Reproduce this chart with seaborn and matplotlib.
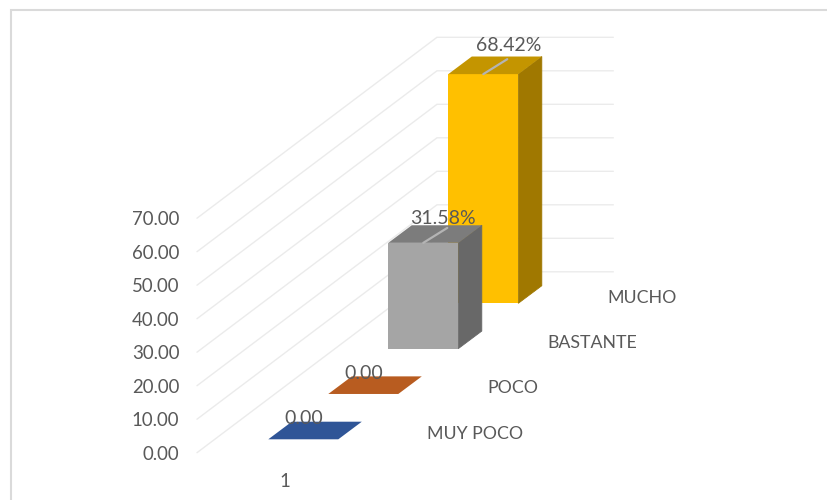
import matplotlib
matplotlib.use("Agg")
import matplotlib.pyplot as plt
from matplotlib.lines import Line2D
from matplotlib.patches import Polygon
import seaborn as sns

categories = ["MUY POCO", "POCO", "BASTANTE", "MUCHO"]
values = [0.0, 0.0, 31.58, 68.42]
axis_ticks = [0, 10, 20, 30, 40, 50, 60, 70]
series_label = "1"

front_colors = ["#4472C4", "#ED7D31", "#A5A5A5", "#FFC000"]
top_colors = ["#2F5597", "#B85C20", "#7C7C7C", "#C49500"]
side_colors = ["#264478", "#9E480E", "#686868", "#A07800"]
text_color = "#595959"
grid_color = "#EBEBEB"

W, H = 827, 500
PX_X = 60.0      # pixels per category step
PX_Y = 3.35      # pixels per value unit
X0, Y0 = 303.3, 439.3   # pixel position of the first bar's base centre

STEP_LIFT = 13.53       # upward shift of the floor per category step
BAR_WIDTH = 70 / PX_X
DEPTH_X = 23.5 / PX_X
DEPTH_Y = 17.6 / PX_Y

sns.set_theme(style="white")
plt.rcParams["font.family"] = ["Lato", "DejaVu Sans"]
TICK_SIZE = 13.4
CATEGORY_SIZE = 12.8
LABEL_SIZE = 14.0

fig = plt.figure(figsize=(W / 100, H / 100), dpi=100, facecolor="white")
ax = fig.add_axes([0, 0, 1, 1])

# Walls of the 3D box: oblique floor rays, then the receding horizontals
wall_front, wall_back, wall_end = -1.772, 2.228, 5.167
floor_front, floor_back = -4.0, 50.0
for tick in axis_ticks:
    ax.plot([wall_front, wall_back, wall_end],
            [floor_front + tick, floor_back + tick, floor_back + tick],
            color=grid_color, lw=1, zorder=1, solid_joinstyle="miter")
    ax.text(wall_front - 0.295, floor_front + tick - 0.4, f"{tick:.2f}",
            ha="right", va="center", color=text_color, fontsize=TICK_SIZE)

# Bars go back to front so that nearer ones cover the farther ones
for i in reversed(range(len(categories))):
    base = i * STEP_LIFT
    val = values[i]
    z = 10 + (len(categories) - i)
    left, right = i - BAR_WIDTH / 2, i + BAR_WIDTH / 2
    top = base + val
    if val > 0:
        # The side face goes first and runs under the front face's edge
        ax.add_patch(Polygon([(right, base), (right + DEPTH_X, base + DEPTH_Y),
                              (right + DEPTH_X, top + DEPTH_Y), (right, top)],
                             closed=True, fc=side_colors[i], ec=side_colors[i],
                             lw=0.6, zorder=z))
    sns.barplot(x=[i], y=[val], bottom=base, width=BAR_WIDTH, native_scale=True,
                color=front_colors[i], saturation=1, linewidth=0, zorder=z + 0.1,
                ax=ax, errorbar=None)
    ax.add_patch(Polygon([(left, top), (right, top),
                          (right + DEPTH_X, top + DEPTH_Y), (left + DEPTH_X, top + DEPTH_Y)],
                         closed=True, fc=top_colors[i], ec="none", zorder=z + 0.2))
    if val > 0:
        # Leader line from the front edge toward the data label
        ax.plot([i, i + 0.85 * DEPTH_X * 1.2], [top, top + 0.85 * DEPTH_Y],
                color="#B4B4B4", lw=1.6, zorder=z + 0.5)

# Data labels sit over all bars; their offsets grow with the bar height
label_nudge_x = [0.01, 0.01, 0.32, 0.42]
label_nudge_y = [6.1, 6.1, 7.2, 8.5]
for i, val in enumerate(values):
    text = f"{val:.2f}%" if val else f"{val:.2f}"
    ax.text(i + label_nudge_x[i], i * STEP_LIFT + val + label_nudge_y[i], text,
            ha="center", va="center", color=text_color, fontsize=LABEL_SIZE, zorder=30)

# Depth-axis labels run along the floor, series label below the first bar
for i, name in enumerate(categories):
    ax.text(i + 2.06, i * STEP_LIFT + 1.7, name,
            ha="left", va="center", color=text_color, fontsize=CATEGORY_SIZE, zorder=30)
ax.text(-0.3, -12.6, series_label, ha="center", va="center",
        color=text_color, fontsize=TICK_SIZE)

ax.set_xlim((0 - X0) / PX_X, (W - X0) / PX_X)
ax.set_ylim((Y0 - H) / PX_Y, Y0 / PX_Y)
ax.axis("off")

# Chart-area border: only the top and left edges fall inside the canvas
border_x = 11 / W
border_y = 1 - 10 / H
fig.add_artist(Line2D([border_x, border_x, 1], [0, border_y, border_y],
                      transform=fig.transFigure, color="#DADADA", lw=1.5,
                      solid_joinstyle="miter"))

fig.savefig("out.png", dpi=100)
